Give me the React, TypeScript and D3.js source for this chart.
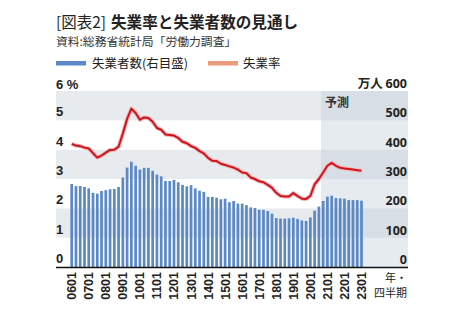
import React from "react";
import * as d3 from "d3";

const W = 466;
const H = 328;

// Quarterly series, 2006Q1 – 2023Q1
const startYear = 2006;
const quarters: string[] = d3.range(69).map(
  (i) => `${String((startYear + Math.floor(i / 4)) % 100).padStart(2, "0")}0${(i % 4) + 1}`
);

// 失業者数 (万人, right axis)
const unemployed = [
  283, 276, 276, 273, 268, 253, 250, 259, 262, 265, 266, 273, 305, 339, 359, 345,
  332, 338, 338, 328, 315, 309, 293, 293, 297, 289, 280, 275, 279, 268, 260, 256,
  239, 239, 236, 231, 233, 221, 225, 216, 216, 211, 203, 201, 195, 195, 191, 182,
  167, 165, 165, 166, 168, 164, 159, 157, 169, 192, 206, 225, 240, 243, 235, 234,
  233, 228, 228, 228, 226,
];

// 失業率 (%, left axis)
const rate = [
  4.2, 4.14, 4.12, 4.07, 4.04, 3.88, 3.73, 3.8, 3.9, 3.99, 4.0, 4.1, 4.55, 5.05, 5.4, 5.25,
  5.02, 5.1, 5.08, 4.95, 4.74, 4.68, 4.52, 4.5, 4.48, 4.4, 4.27, 4.22, 4.12, 4.06, 3.95, 3.87,
  3.72, 3.62, 3.61, 3.52, 3.48, 3.43, 3.39, 3.32, 3.22, 3.2, 3.05, 3.0, 2.92, 2.89, 2.8, 2.7,
  2.53, 2.42, 2.4, 2.4, 2.52, 2.42, 2.33, 2.32, 2.42, 2.82, 3.0, 3.22, 3.45, 3.55, 3.45, 3.38,
  3.36, 3.34, 3.32, 3.3, 3.28,
];

const xTickLabels = ["0601", "0701", "0801", "0901", "1001", "1101", "1201", "1301", "1401", "1501", "1601", "1701", "1801", "1901", "2001", "2101", "2201", "2301"];
const leftTicks = [0, 1, 2, 3, 4, 5];
const rightTicks = [0, 100, 200, 300, 400, 500];
const forecastStart = "2004"; // first forecast quarter (2020Q4)

const PL = 56;
const PR = 408;
const PT = 91;
const PB = 267;

const jp = "'Noto Sans CJK JP', 'Noto Sans', sans-serif";
const num = "'Liberation Sans', Arial, sans-serif";
const num2 = "'Open Sans', 'Noto Sans', sans-serif";

export default function App() {
  const x = d3.scaleLinear().domain([0, quarters.length - 1]).range([71.7, 361.5]);
  const yL = d3.scaleLinear().domain([0, 6]).range([PB, PT]);
  const yR = d3.scaleLinear().domain([0, 600]).range([PB, PT]);
  const barW = 2.7;

  const line = d3
    .line<number>()
    .x((_, i) => x(i))
    .y((d) => yL(d));

  const fi = quarters.indexOf(forecastStart);
  const fx = (x(fi) + x(fi - 1)) / 2;

  const bands = d3.range(6).map((v) => ({ v, gray: v % 2 === 1 }));

  return (
    <svg
      width={W}
      height={H}
      style={{ position: "absolute", left: 0, top: 0, background: "#fff" }}
    >
      <rect x={0} y={0} width={W} height={H} fill="#fff" />
      {/* title */}
      <text x={56} y={28} fontFamily={jp} fontSize={15.5} fill="#222">
        [図表2]
      </text>
      <text x={111} y={28} fontFamily={jp} fontSize={15.6} fontWeight={700} fill="#222">
        失業率と失業者数の見通し
      </text>
      <text x={56} y={46} fontFamily={jp} fontSize={11.8} fill="#333">
        資料:総務省統計局「労働力調査」
      </text>
      {/* legend */}
      <rect x={56} y={61} width={30} height={4.5} fill="#5b89c6" />
      <text x={92} y={67.5} fontFamily={jp} fontSize={12.5} fill="#222">
        失業者数(右目盛)
      </text>
      <rect x={208} y={61} width={30} height={4.5} fill="#eb9b7c" />
      <text x={243} y={67.5} fontFamily={jp} fontSize={12.5} fill="#222">
        失業率
      </text>

      {/* bands */}
      {bands.map((b) => (
        <rect
          key={b.v}
          x={PL}
          y={yL(b.v + 1)}
          width={PR - PL}
          height={yL(b.v) - yL(b.v + 1)}
          fill={b.gray ? "#e8ebee" : "#ffffff"}
        />
      ))}
      {/* forecast region */}
      <rect x={fx} y={PT} width={PR - fx} height={PB - PT} fill="#b8c6d3" opacity={0.35} />
      <text x={325} y={107} fontFamily={jp} fontSize={12} fontWeight={700} fill="#333">
        予測
      </text>

      {/* bars */}
      {unemployed.map((d, i) => (
        <rect
          key={i}
          x={x(i) - barW / 2}
          y={yR(d)}
          width={barW}
          height={yR(0) - yR(d)}
          fill="#5b89c6"
        />
      ))}

      {/* line */}
      <path d={line(rate) || ""} fill="none" stroke="#f4b3b0" strokeWidth={4} strokeLinejoin="round" />
      <path d={line(rate) || ""} fill="none" stroke="#cc1422" strokeWidth={2} strokeLinejoin="round" />

      {/* baseline */}
      <line x1={PL} x2={PR} y1={PB + 0.5} y2={PB + 0.5} stroke="#111" strokeWidth={1.5} />

      {/* left axis labels */}
      {leftTicks.map((t) => (
        <text key={t} x={56} y={yL(t) - 4} fontFamily={num} fontWeight={700} fontSize={13} fill="#222">
          {t}
        </text>
      ))}
      <text x={56} y={88.5} fontFamily={num} fontWeight={700} fontSize={13} fill="#222">
        6 %
      </text>

      {/* right axis labels */}
      {rightTicks.map((t) => (
        <text
          key={t}
          x={407}
          y={yR(t) - 3}
          textAnchor="end"
          fontFamily={num2}
          fontWeight={700}
          fontSize={12.5}
          fill="#222"
        >
          {t}
        </text>
      ))}
      <text x={407} y={88} textAnchor="end" fontFamily={jp} fontWeight={700} fontSize={12.5} fill="#222">
        万人 <tspan fontFamily={num2}>600</tspan>
      </text>

      {/* x labels */}
      {xTickLabels.map((lab) => {
        const i = quarters.indexOf(lab);
        const cx = x(i);
        return (
          <text
            key={lab}
            transform={`translate(${cx + 4.5},272) rotate(-90)`}
            textAnchor="end"
            fontFamily={num}
            fontWeight={700}
            fontSize={12.5}
            fill="#222"
          >
            {lab}
          </text>
        );
      })}
      <text x={407} y={281.5} textAnchor="end" fontFamily={jp} fontSize={11} fill="#222">
        年・
      </text>
      <text x={407} y={297} textAnchor="end" fontFamily={jp} fontSize={11} fill="#222">
        四半期
      </text>
    </svg>
  );
}
